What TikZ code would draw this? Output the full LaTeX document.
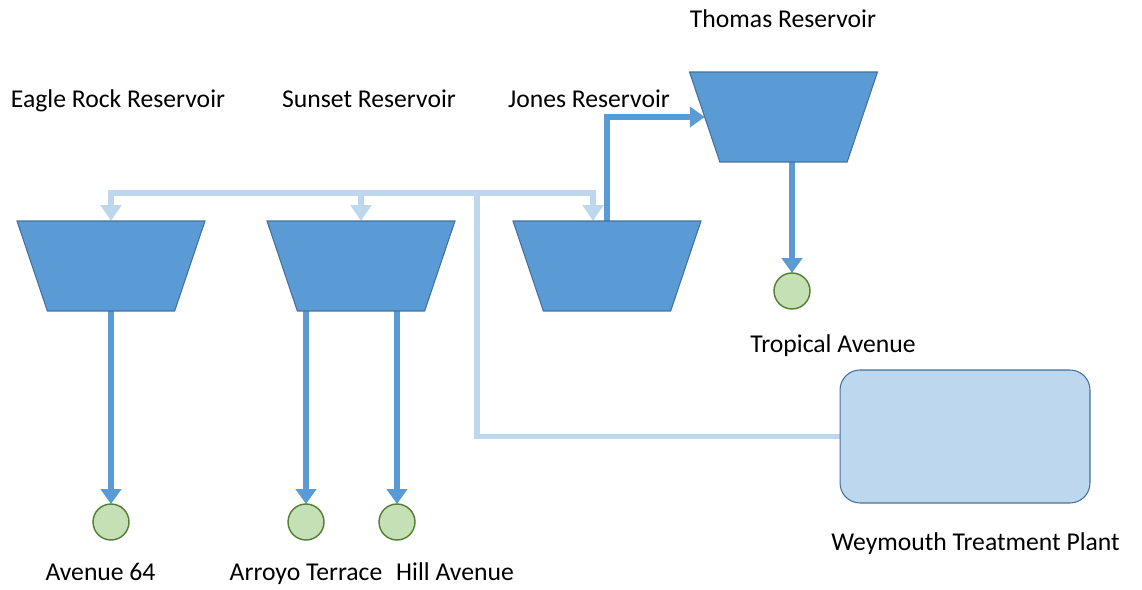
\documentclass[tikz,border=0pt]{standalone}
\usepackage{fontspec}
\setmainfont{Carlito}
\usepackage{tikz}
\usetikzlibrary{shapes.geometric,arrows.meta,calc}
\definecolor{resblue}{HTML}{5B9BD5}
\definecolor{resedge}{HTML}{41719C}
\definecolor{lblue}{HTML}{BDD7EE}
\definecolor{lgreen}{HTML}{C5E0B4}
\definecolor{dgreen}{HTML}{507E32}
\pgfdeclarelayer{edgelayer}
\pgfdeclarelayer{nodelayer}
\pgfsetlayers{edgelayer,nodelayer,main}
\tikzstyle{reservoir}=[trapezium, trapezium stretches=true, trapezium angle=76.6, shape border rotate=180, fill=resblue, draw=resedge, line width=0.6pt, minimum width=3.76cm, minimum height=1.8cm, inner sep=2pt, outer sep=0pt]
\tikzstyle{site}=[circle, fill=lgreen, draw=dgreen, line width=0.8pt, minimum size=0.72cm, inner sep=0pt, outer sep=0pt]
\tikzstyle{plant}=[rectangle, rounded corners=0.4cm, fill=lblue, draw=resedge, line width=0.6pt, minimum width=5cm, minimum height=2.66cm, outer sep=0pt]
\tikzstyle{label}=[font=\fontsize{14.6}{17}\selectfont, inner sep=0pt, anchor=base]
\tikzstyle{feed}=[draw=resblue, line width=3pt, -{Triangle[width=11.5pt, length=8.5pt]}]
\tikzstyle{supply}=[draw=lblue, line width=3pt]
\tikzstyle{supplyarrow}=[draw=lblue, line width=3pt, -{Triangle[width=11.5pt, length=9pt]}]

\begin{document}
\begin{tikzpicture}[x=0.02cm, y=-0.02cm]
    \useasboundingbox (0,0) rectangle (1142,590);
    \begin{pgfonlayer}{nodelayer}
        \node [style=reservoir] (eagle) at (111, 266) {};
        \node [style=reservoir] (sunset) at (361, 266) {};
        \node [style=reservoir] (jones) at (607, 266) {};
        \node [style=reservoir] (thomas) at (783.5, 117) {};
        \node [style=plant] (weymouth) at (965, 436.5) {};
        \node [style=site] (ave64) at (111, 522) {};
        \node [style=site] (arroyo) at (306, 522) {};
        \node [style=site] (hill) at (397, 522) {};
        \node [style=site] (tropical) at (792, 291) {};
        % labels
        \node [style=label] (eaglelabel) at (118, 107.5) {Eagle Rock Reservoir};
        \node [style=label] (sunsetlabel) at (369, 107.5) {Sunset Reservoir};
        \node [style=label] (joneslabel) at (589, 107.5) {Jones Reservoir};
        \node [style=label] (thomaslabel) at (783, 28) {Thomas Reservoir};
        \node [style=label] (ave64label) at (100.5, 581) {Avenue 64};
        \node [style=label] (arroyolabel) at (306, 581) {Arroyo Terrace};
        \node [style=label] (hilllabel) at (455, 581) {Hill Avenue};
        \node [style=label] (tropicallabel) at (833, 353) {Tropical Avenue};
        \node [style=label] (weymouthlabel) at (975.5, 551) {Weymouth Treatment Plant};
        \coordinate (hub) at (477, 193);
        \coordinate (jonesin) at (593, 221);
    \end{pgfonlayer}
    \begin{pgfonlayer}{edgelayer}
        \draw [style=supply] (weymouth.west) -| (hub);
        \draw [style=supplyarrow] (hub) -| (eagle.north);
        \draw [style=supplyarrow] (hub) -| (sunset.north);
        \draw [style=supplyarrow] (hub) -| (jonesin);
        \draw [style=feed] (jones.north) |- (thomas.west);
        \draw [style=feed] (tropical |- thomas.south) to (tropical);
        \draw [style=feed] (eagle.south) to (ave64);
        \draw [style=feed] (arroyo |- sunset.south) to (arroyo);
        \draw [style=feed] (hill |- sunset.south) to (hill);
    \end{pgfonlayer}
\end{tikzpicture}
\end{document}
